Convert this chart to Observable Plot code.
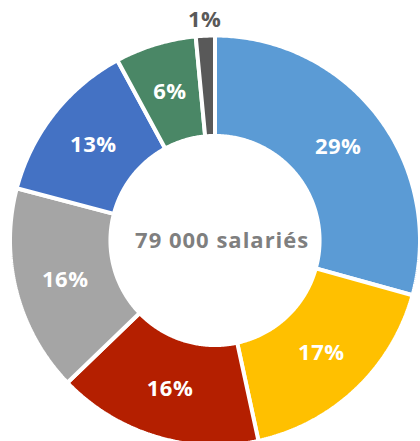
<!DOCTYPE html>
<html>
<head>
<meta charset="utf-8">
<script src="https://cdn.jsdelivr.net/npm/d3@7"></script>
<script src="https://cdn.jsdelivr.net/npm/@observablehq/plot@0.6"></script>
<style>
  html, body { margin: 0; padding: 0; background: #fff; }
  #chart { width: 420px; height: 441px; overflow: hidden; }
</style>
</head>
<body>
<div id="chart"></div>
<script>
// Data (shares in %, clockwise from 12 o'clock)
const segments = ["A", "B", "C", "D", "E", "F", "G"];
const values = [29.3, 17.3, 16.2, 16.3, 13.0, 6.4, 1.5];
const labels = ["29%", "17%", "16%", "16%", "13%", "6%", "1%"];
const colors = ["#5B9BD5", "#FFC000", "#B41F00", "#A5A5A5", "#4472C4", "#4A8766", "#595959"];
const centerLabel = "79 000 salariés";

const inner = 0.51, outer = 1;
const total = d3.sum(values);
let acc = 0;
const polys = [];
const labelRows = [];
segments.forEach((s, i) => {
  const a0 = acc / total * 2 * Math.PI;
  acc += values[i];
  const a1 = acc / total * 2 * Math.PI;
  const n = Math.max(4, Math.ceil((a1 - a0) / 0.01));
  for (let k = 0; k <= n; k++) {
    const a = a0 + (a1 - a0) * k / n;
    polys.push({seg: s, x: outer * Math.sin(a), y: outer * Math.cos(a)});
  }
  for (let k = n; k >= 0; k--) {
    const a = a0 + (a1 - a0) * k / n;
    polys.push({seg: s, x: inner * Math.sin(a), y: inner * Math.cos(a)});
  }
  const am = (a0 + a1) / 2;
  const outside = values[i] < 3;
  const r = outside ? 1.075 : (inner + outer) / 2;
  labelRows.push({seg: s, label: labels[i], x: r * Math.sin(am), y: r * Math.cos(am), outside});
});
const centerRows = [{x: 0.035, y: 0, label: centerLabel}];

const R = 205, cx = 214.5, cy = 240;
const chart = Plot.plot({
  width: 420,
  height: 441,
  margin: 0,
  x: {domain: [-cx / R, (420 - cx) / R], range: [0, 420], axis: null},
  y: {domain: [-(441 - cy) / R, cy / R], range: [441, 0], axis: null},
  color: {domain: segments, range: colors},
  style: {fontFamily: "'Open Sans', Lato, sans-serif", background: "#fff"},
  marks: [
    Plot.line(polys, {x: "x", y: "y", z: "seg", fill: "seg", stroke: "white", strokeWidth: 4, curve: "linear-closed", strokeLinejoin: "miter"}),
    Plot.text(labelRows.filter(d => !d.outside), {x: "x", y: "y", text: "label", fill: "white", fontSize: 22, fontWeight: "bold", style: "letter-spacing:0.5px"}),
    Plot.text(labelRows.filter(d => d.outside), {x: "x", y: "y", text: "label", fill: "#595959", fontSize: 22, fontWeight: "bold"}),
    Plot.text(centerRows, {x: "x", y: "y", text: "label", fill: "#7F7F7F", fontSize: 22, fontWeight: "bold"})
  ]
});
chart.querySelectorAll("text").forEach(t => {
  if (t.textContent.includes("salari")) t.style.letterSpacing = "1px";
  else t.style.letterSpacing = "0.5px";
});
document.getElementById("chart").appendChild(chart);
</script>
</body>
</html>
